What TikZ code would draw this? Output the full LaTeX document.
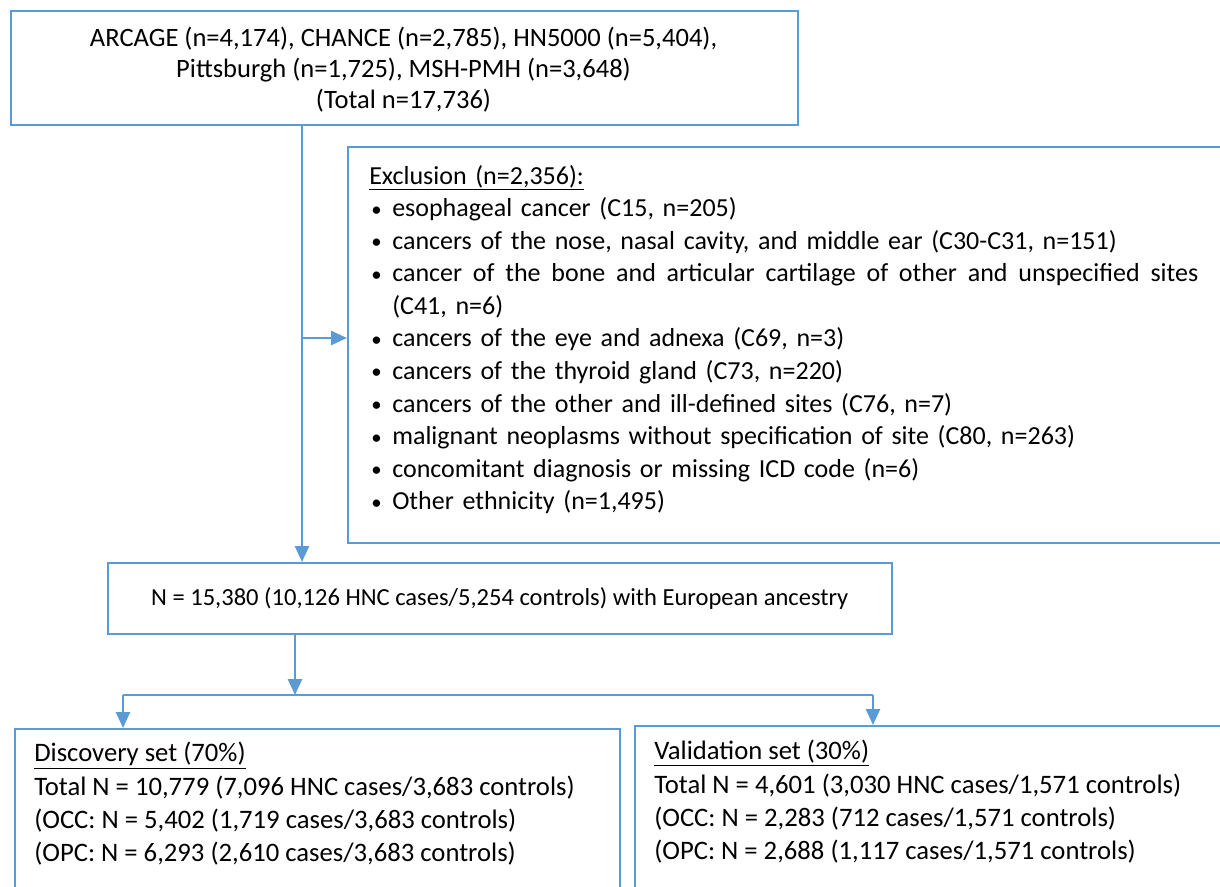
\documentclass[tikz,border=0pt]{standalone}
\usepackage{fontspec}
\setmainfont{Carlito}
\usetikzlibrary{arrows.meta}
\newdimen\px \px=0.75pt
\definecolor{lineblue}{HTML}{5B9BD5}
\newcommand\bul[1]{\par\noindent\hangindent=23\px\hangafter=1\makebox[23\px][l]{\hspace{2\px}\raisebox{0.5\px}{\scalebox{0.8}{•}}}#1}
\tikzset{
  box/.style={draw=lineblue, line width=1.125pt, inner sep=0pt, anchor=north west},
  conn/.style={draw=lineblue, line width=1.875pt},
  arr/.style={conn, -{Triangle[width=10.5pt,length=12pt]}},
  txt/.style={inner sep=0pt, anchor=north west}
}
\begin{document}
\begin{tikzpicture}[x=0.75pt,y=-0.75pt]
\useasboundingbox (0,0) rectangle (1220,886);
\clip (0,0) rectangle (1220,886);
% boxes
\node[box, minimum width=590.25pt, minimum height=85.5pt] (top) at (10,10) {};
\node[inner sep=0pt, align=center, font=\fontsize{19.9pt}{23.25pt}\selectfont] (toptext) at (403.5,70)
  {ARCAGE (n=4,174), CHANCE (n=2,785), HN5000 (n=5,404),\\
   Pittsburgh (n=1,725), MSH-PMH (n=3,648)\\
   (Total n=17,736)};
\node[box, minimum width=675pt, minimum height=297pt] (exc) at (347,146) {};
\node[txt, text width=621.75pt, font=\fontsize{19.5pt}{24.4pt}\selectfont] (exctext) at (369,165) {%
  \underline{Exclusion (n=2,356):}
  \bul{esophageal cancer (C15, n=205)}
  \bul{cancers of the nose, nasal cavity, and middle ear (C30-C31, n=151)}
  \bul{{\spaceskip=0.226em plus 1fil\relax\hbox to 604.5pt{cancer of the bone and articular cartilage of other and unspecified sites}}}
  \par\noindent\hspace*{23\px}(C41, n=6)
  \bul{cancers of the eye and adnexa (C69, n=3)}
  \bul{cancers of the thyroid gland (C73, n=220)}
  \bul{cancers of the other and ill-defined sites (C76, n=7)}
  \bul{malignant neoplasms without specification of site (C80, n=263)}
  \bul{concomitant diagnosis or missing ICD code (n=6)}
  \bul{Other ethnicity (n=1,495)}};
\node[box, minimum width=588pt, minimum height=53.25pt,
      font=\fontsize{18.4pt}{22pt}\selectfont] (mid) at (107,562)
  {\raisebox{3\px}{N = 15,380 (10,126 HNC cases/5,254 controls) with European ancestry}\hspace{8\px}};
\node[box, minimum width=453.75pt, minimum height=150pt] (left) at (14,728) {};
\node[box, minimum width=465pt, minimum height=150pt] (right) at (634,725) {};
\node[txt, align=left, font=\fontsize{20pt}{25pt}\selectfont] (lefttext) at (34,742)
  {\underline{Discovery set (70\%)}\\
   Total N = 10,779 (7,096 HNC cases/3,683 controls)\\
   (OCC: N = 5,402 (1,719 cases/3,683 controls)\\
   (OPC: N = 6,293 (2,610 cases/3,683 controls)};
\node[txt, align=left, font=\fontsize{20pt}{25pt}\selectfont] (righttext) at (654,740)
  {\underline{Validation set (30\%)}\\
   Total N = 4,601 (3,030 HNC cases/1,571 controls)\\
   (OCC: N = 2,283 (712 cases/1,571 controls)\\
   (OPC: N = 2,688 (1,117 cases/1,571 controls)};
% connectors
\coordinate (br) at (302,338);
\coordinate (split) at (295,695);
\coordinate (sl) at (123,695);
\coordinate (sr) at (873,695);
\draw[arr] ([xshift=219pt]top.south west) -- ([xshift=146.25pt]mid.north west);
\draw[arr] (br) -- (br -| exc.west);
\draw[arr] ([xshift=141pt]mid.south west) -- (split);
\draw[conn, line width=1.5pt] (sl) -- (sr);
\draw[arr] (sl) -- (sl |- left.north);
\draw[arr] (sr) -- (sr |- right.north);
\end{tikzpicture}
\end{document}
